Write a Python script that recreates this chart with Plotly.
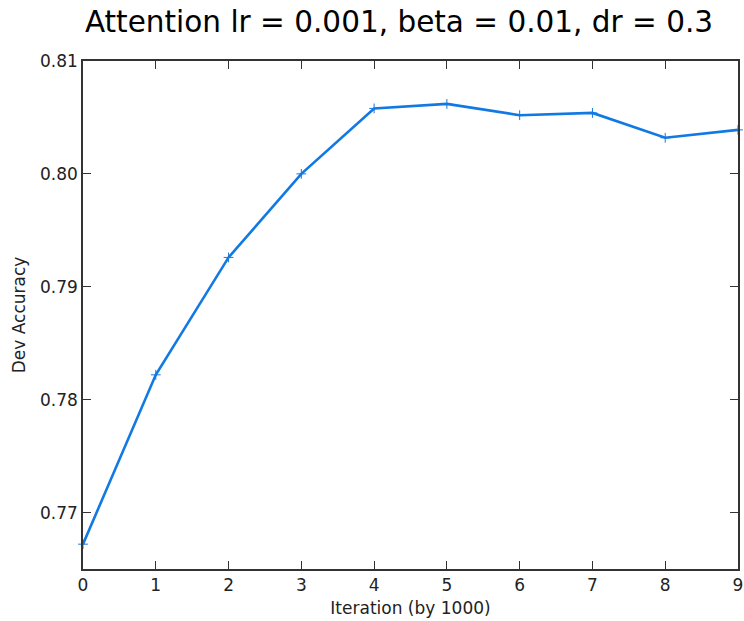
import plotly.graph_objects as go

iterations = [0, 1, 2, 3, 4, 5, 6, 7, 8, 9]
dev_accuracy = [0.7672, 0.7822, 0.7926, 0.8000, 0.8058, 0.8062, 0.8052, 0.8054, 0.8032, 0.8039]
y_ticks = [0.77, 0.78, 0.79, 0.80, 0.81]
y_tick_labels = ["0.77", "0.78", "0.79", "0.80", "0.81"]

fig = go.Figure()
fig.add_trace(go.Scatter(
    x=iterations, y=dev_accuracy, mode="lines+markers",
    line=dict(color="#1179e3", width=2.6),
    marker=dict(symbol="cross-thin-open", size=7,
                color="#1179e3", line=dict(color="#5fa5ee", width=1)),
    showlegend=False, cliponaxis=False,
))

font = "DejaVu Sans, sans-serif"
fig.update_layout(
    width=744, height=621,
    margin=dict(l=83, r=6, t=61, b=52),
    paper_bgcolor="white", plot_bgcolor="white",
    title=dict(text="Attention lr = 0.001, beta = 0.01, dr = 0.3",
               x=399/744, xanchor="center", y=1-22/621, yanchor="middle",
               font=dict(family=font, size=29.5, color="black")),
    xaxis=dict(range=[0, 9], tickvals=iterations, ticks="inside", ticklen=8,
               tickcolor="#333", showline=True, linecolor="#333", linewidth=1.5,
               mirror="ticks", showgrid=False, zeroline=False, automargin=False,
               tickfont=dict(family=font, size=17, color="#222"),
               title=dict(text="Iteration (by 1000)", standoff=8,
                          font=dict(family=font, size=17, color="#222"))),
    yaxis=dict(range=[0.765, 0.81], tickvals=y_ticks, ticktext=y_tick_labels,
               ticks="inside", ticklen=8, tickcolor="#333", showline=True,
               linecolor="#333", linewidth=1.5, mirror="ticks", showgrid=False,
               zeroline=False, automargin=False,
               tickfont=dict(family=font, size=17, color="#222"),
               title=dict(text="Dev Accuracy", standoff=10,
                          font=dict(family=font, size=17, color="#222"))),
)

fig.write_html("out.html", config={"displayModeBar": False},
               post_script="document.body.style.margin='0';")
